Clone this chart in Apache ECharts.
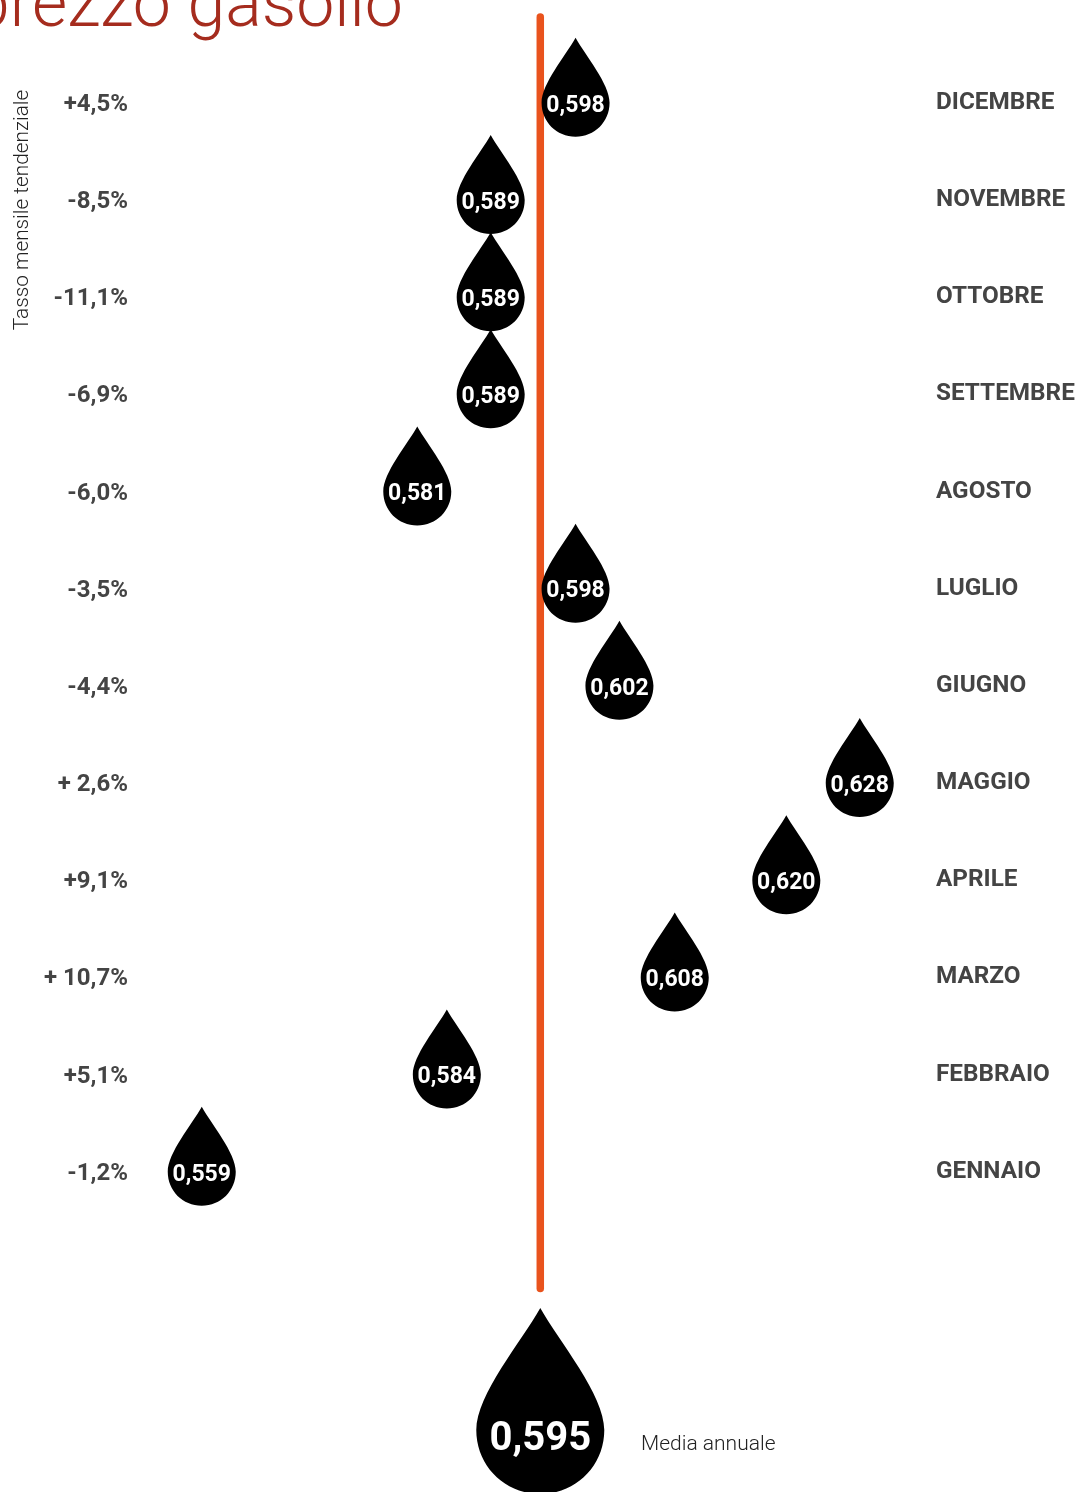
<!DOCTYPE html>
<html><head><meta charset="utf-8">
<style>html,body{margin:0;padding:0;background:#fff}#c{width:1077px;height:1492px}</style>
<script src="https://cdn.jsdelivr.net/npm/echarts@6/dist/echarts.min.js"></script></head>
<body><div id="c"></div>
<script>
const months = ['GENNAIO','FEBBRAIO','MARZO','APRILE','MAGGIO','GIUGNO','LUGLIO','AGOSTO','SETTEMBRE','OTTOBRE','NOVEMBRE','DICEMBRE'];
const rates = ['-1,2%','+5,1%','+ 10,7%','+9,1%','+ 2,6%','-4,4%','-3,5%','-6,0%','-6,9%','-11,1%','-8,5%','+4,5%'];
const prices = [0.559,0.5847,0.6086,0.6203,0.628,0.6028,0.5982,0.5816,0.5893,0.5893,0.5893,0.5982];
const priceLabels = ['0,559','0,584','0,608','0,620','0,628','0,602','0,598','0,581','0,589','0,589','0,589','0,598'];
const annualMean = 0.5945;
const annualLabel = '0,595';
const meanSpan = [-0.2, 12.883];
const annualRow = -1.733;

const drop = 'path://M34 0C44 18 68 46 68 65C68 84 53 99 34 99C15 99 0 84 0 65C0 46 24 18 34 0Z';
const rows = months.map((m,i)=>i+1);
const rowLabel = (arr)=> v => (v>=1 && v<=12) ? arr[v-1] : '';
const yBase = {type:'value',min:-2,max:13,interval:1,splitLine:{show:false},axisLine:{show:false},axisTick:{show:false}};
const font = 'Roboto';

const chart = echarts.init(document.getElementById('c'),null,{renderer:'canvas',width:1077,height:1492});
chart.setOption({
  animation:false,
  backgroundColor:'#fff',
  title:{text:'prezzo gasolio',left:-33,top:-30,textStyle:{fontFamily:font,fontWeight:300,fontSize:68,color:'#A52C1E'}},
  grid:{left:135,width:791.5,top:5.6,height:1457.7,outerBoundsMode:'none'},
  xAxis:{type:'value',min:0.552,max:0.635,show:false},
  yAxis:[
    Object.assign({},yBase,{position:'left',axisLabel:{margin:7,align:'right',
      formatter:v=>{const t=rowLabel(rates)(v);return t?'{a|'+t+'}':'';},
      rich:{a:{padding:[4,0,0,0],fontFamily:font,fontWeight:700,fontSize:24,color:'#444'}},fontFamily:font,fontWeight:700,fontSize:24,color:'#444'}}),
    Object.assign({},yBase,{position:'right',axisLabel:{margin:9.5,align:'left',formatter:rowLabel(months),fontFamily:font,fontWeight:700,fontSize:24.3,color:'#444'}})
  ],
  graphic:[
    {type:'text',x:23,y:210,rotation:Math.PI/2,style:{text:'Tasso mensile tendenziale',fontFamily:font,fontWeight:300,fontSize:20.8,fill:'#222',align:'center',verticalAlign:'middle'}},
    {type:'text',x:641,y:1445,style:{text:'Media annuale',fontFamily:font,fontWeight:300,fontSize:21,fill:'#222',align:'left',verticalAlign:'middle'}}
  ],
  series:[
    {type:'line',z:1,showSymbol:false,silent:true,clip:false,data:meanSpan.map(r=>[annualMean,r]),lineStyle:{color:'#E9531D',width:7.5,cap:'round'}},
    {type:'scatter',z:3,clip:false,symbol:drop,symbolSize:[68,99],symbolOffset:[0,-15.5],itemStyle:{color:'#000',opacity:1},
      data:prices.map((p,i)=>[p,rows[i]]),
      label:{show:true,position:'inside',offset:[0,18.5],formatter:o=>priceLabels[o.dataIndex],fontFamily:font,fontWeight:700,fontSize:23,color:'#fff'}},
    {type:'scatter',z:3,clip:false,symbol:drop,symbolSize:[128,186],symbolOffset:[0,-36.4],itemStyle:{color:'#000',opacity:1},
      data:[[annualMean,annualRow]],
      label:{show:true,position:'inside',offset:[0,39.4],formatter:()=>annualLabel,fontFamily:font,fontWeight:700,fontSize:40,color:'#fff'}}
  ]
});
</script></body></html>
